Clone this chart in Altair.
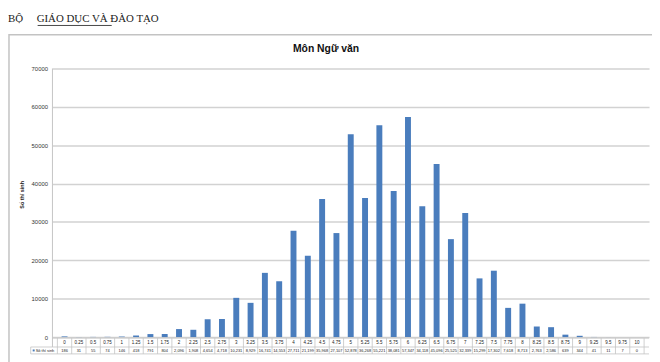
import altair as alt
import pandas as pd

categories = ["0", "0.25", "0.5", "0.75", "1", "1.25", "1.5", "1.75", "2", "2.25", "2.5", "2.75",
              "3", "3.25", "3.5", "3.75", "4", "4.25", "4.5", "4.75", "5", "5.25", "5.5", "5.75",
              "6", "6.25", "6.5", "6.75", "7", "7.25", "7.5", "7.75", "8", "8.25", "8.5", "8.75",
              "9", "9.25", "9.5", "9.75", "10"]
counts = [186, 31, 55, 74, 146, 418, 791, 804, 2096, 1908, 4654, 4718,
          10231, 8929, 16741, 14553, 27711, 21199, 35968, 27107, 52878, 36268, 55221, 38081,
          57347, 34118, 45096, 25525, 32339, 15299, 17302, 7618, 8713, 2763, 2586, 639,
          344, 41, 11, 7, 0]
y_ticks = [0, 10000, 20000, 30000, 40000, 50000, 60000, 70000]
chart_title = "Môn Ngữ văn"
y_title = "Số thí sinh"
header_first = "BỘ"
header_rest = "GIÁO DỤC VÀ ĐÀO TẠO"
underlined = "GIÁO DỤC VÀ"

W, H = 604, 272
n = len(categories)
df = pd.DataFrame({
    "idx": list(range(n)),
    "cat": categories,
    "count": counts,
    "label": [f"{c:,}" for c in counts],
})
edges = pd.DataFrame({"e": [i - 0.5 for i in range(n + 1)]})

xs = alt.Scale(domain=[-0.5, n - 0.5], nice=False, zero=False)
ys = alt.Scale(domain=[0, 70000], nice=False)

FONT = "Liberation Sans"
GRID = "#d2d2d2"
TBL = "#c4c4c4"
BLUE = "#4a7dbd"

one = pd.DataFrame({"t": [""]})

frame = alt.Chart(one).mark_rect(filled=False, stroke="#c3c3c3", strokeWidth=1.5).encode(
    x=alt.value(-44), x2=alt.value(700), y=alt.value(-34), y2=alt.value(400))

bars = alt.Chart(df).mark_bar(size=6, color=BLUE).encode(
    x=alt.X("idx:Q", scale=xs, axis=None),
    y=alt.Y("count:Q", scale=ys, axis=alt.Axis(
        values=y_ticks, format="d", labelFontSize=6, labelColor="#333333", labelFont=FONT,
        ticks=False, labelPadding=5, domain=False, gridColor=GRID, gridWidth=1.5, title=None)),
)

yline = alt.Chart(one).mark_rule(color=TBL, strokeWidth=1).encode(
    x=alt.value(0), y=alt.value(0), y2=alt.value(282))

vlines = alt.Chart(edges).mark_rule(color=TBL, strokeWidth=0.8).encode(
    x=alt.X("e:Q", scale=xs, axis=None), y=alt.value(273), y2=alt.value(289))

h1 = alt.Chart(one).mark_rule(color=TBL, strokeWidth=0.8).encode(
    x=alt.value(0), x2=alt.value(W), y=alt.value(273))
h2 = alt.Chart(one).mark_rule(color=TBL, strokeWidth=0.8).encode(
    x=alt.value(-22), x2=alt.value(W), y=alt.value(282))
h3 = alt.Chart(one).mark_rule(color=TBL, strokeWidth=0.8).encode(
    x=alt.value(-22), x2=alt.value(W), y=alt.value(289))
vleg = alt.Chart(one).mark_rule(color=TBL, strokeWidth=0.8).encode(
    x=alt.value(-22), y=alt.value(282), y2=alt.value(289))

cat_text = alt.Chart(df).mark_text(fontSize=4.5, font=FONT, color="#222222").encode(
    x=alt.X("idx:Q", scale=xs, axis=None), y=alt.value(277.5), text="cat:N")
val_text = alt.Chart(df).mark_text(fontSize=4, font=FONT, color="#222222").encode(
    x=alt.X("idx:Q", scale=xs, axis=None), y=alt.value(285.7), text="label:N")

leg_sq = alt.Chart(one).mark_rect(color=BLUE).encode(
    x=alt.value(-20), x2=alt.value(-18), y=alt.value(284.5), y2=alt.value(286.5))
leg_txt = alt.Chart(pd.DataFrame({"t": [y_title]})).mark_text(
    fontSize=4, font=FONT, color="#222222", align="left").encode(
    x=alt.value(-17), y=alt.value(285.7), text="t:N")

title = alt.Chart(pd.DataFrame({"t": [chart_title]})).mark_text(
    fontSize=10.5, font=FONT, fontWeight="bold", color="#111111").encode(
    x=alt.value(277), y=alt.value(-20), text="t:N")

ytitle = alt.Chart(pd.DataFrame({"t": [y_title]})).mark_text(
    fontSize=5.5, font=FONT, fontWeight="bold", color="#222222", angle=270).encode(
    x=alt.value(-31), y=alt.value(128), text="t:N")

head1 = alt.Chart(pd.DataFrame({"t": [header_first]})).mark_text(
    fontSize=11, font="Liberation Serif", color="#1a1a1a", align="left", baseline="alphabetic").encode(
    x=alt.value(-45), y=alt.value(-47.5), text="t:N")
head2 = alt.Chart(pd.DataFrame({"t": [header_rest]})).mark_text(
    fontSize=11, font="Liberation Serif", color="#1a1a1a", align="left", baseline="alphabetic").encode(
    x=alt.value(-16), y=alt.value(-47.5), text="t:N")
uline = alt.Chart(pd.DataFrame({"t": [underlined]})).mark_rule(color="#1a1a1a", strokeWidth=0.8).encode(
    x=alt.value(-15), x2=alt.value(60), y=alt.value(-43.5))

chart = alt.layer(
    frame, bars, yline, vlines, h1, h2, h3, vleg, cat_text, val_text, leg_sq, leg_txt,
    title, ytitle, head1, head2, uline
).properties(
    width=W, height=H,
    autosize=alt.AutoSizeParams(type="none"),
    padding={"left": 45, "top": 59, "right": 3, "bottom": 23},
    background="white",
).configure_view(stroke=None)

chart.save("out.html", embed_options={"renderer": "svg", "actions": False})
